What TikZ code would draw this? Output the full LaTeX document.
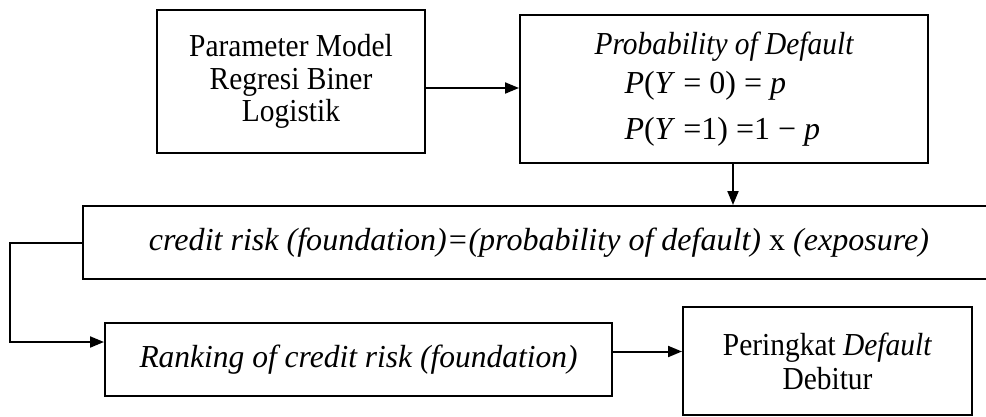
\documentclass[tikz,border=0pt]{standalone}
\usepackage{fontspec}
\setmainfont{Liberation Serif}
\usepackage{graphicx}
\usetikzlibrary{arrows.meta,calc}
\newcommand\sqz[1]{\scalebox{0.92}[1]{#1}}
\begin{document}
\begin{tikzpicture}[x=1pt,y=-1pt,
  box/.style={draw,line width=2pt,inner sep=0pt,align=center,font=\fontsize{32}{30}\selectfont},
  arr/.style={line width=2pt,-{Triangle[length=14pt,width=11pt]}}]
\clip (0,0) rectangle (986,416);
\fill[white] (0,0) rectangle (986,416);
\node[box,minimum width=268pt,minimum height=143pt] (b1) at (291,81.5)
  {\sqz{Parameter Model}\\[3pt]\sqz{Regresi Biner}\\[2pt]\sqz{Logistik}};
\node[box,align=left,minimum width=408pt,minimum height=148pt] (b2) at (724,89)
  {\sqz{\itshape Probability of Default}\\[9pt]\hspace*{30pt}\textit{P}(\textit{Y} = 0) = \textit{p}\\[16pt]\hspace*{30pt}\textit{P}(\textit{Y} =1) =1 − \textit{p}};
\node[box,minimum width=912pt,minimum height=73pt] (b3) at (539,242.5)
  {\resizebox{780pt}{\height}{\itshape credit risk (foundation)=(probability of default) \upshape x \itshape (exposure)}};
\node[box,minimum width=507pt,minimum height=73pt] (b4) at (358.5,359.5)
  {\resizebox{438pt}{\height}{\itshape Ranking of credit risk (foundation)}};
\node[box,minimum width=289pt,minimum height=108pt] (b5) at (827.5,361)
  {\sqz{Peringkat \textit{Default}}\\[4pt]\sqz{Debitur}};
\coordinate (a12) at ($(b1.east)+(0,6.5)$);
\draw[arr] (a12) -- (a12 -| b2.west);
\coordinate (a23) at ($(b2.south)+(9,0)$);
\draw[arr] (a23) -- (a23 |- b3.north);
\coordinate (a34) at ($(b4.west)+(0,-17.5)$);
\draw[arr] (b3.west) -- ++(-72,0) |- (a34);
\coordinate (a45) at ($(b4.east)+(0,-8)$);
\draw[arr] (a45) -- (a45 -| b5.west);
\end{tikzpicture}
\end{document}
